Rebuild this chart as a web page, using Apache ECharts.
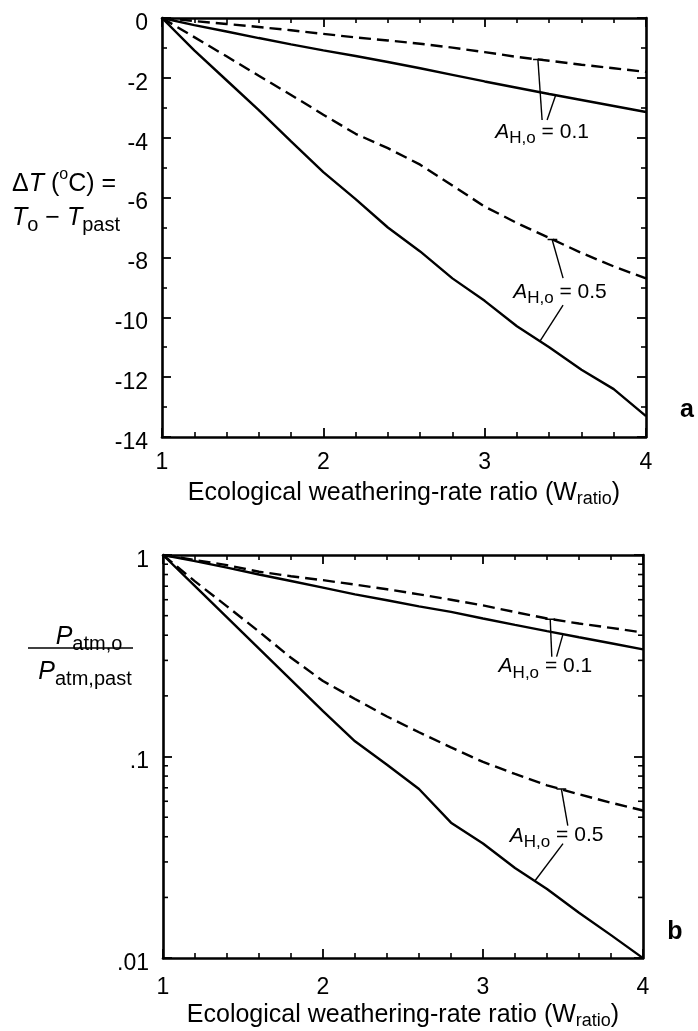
<!DOCTYPE html>
<html><head><meta charset="utf-8">
<script src="https://cdn.jsdelivr.net/npm/echarts@6/dist/echarts.min.js"></script>
<style>html,body{margin:0;padding:0;background:#fff}#c{width:698px;height:1031px}</style>
</head><body><div id="c"></div>
<script>
// ---------- data ----------
const xVals = [1, 1.2, 1.4, 1.6, 1.8, 2, 2.2, 2.4, 2.6, 2.8, 3, 3.2, 3.4, 3.6, 3.8, 4];
const xTickLabels = ['1', '2', '3', '4'];

// panel a : ΔT (°C)
const dT_solid_01 = [0, -0.24, -0.45, -0.67, -0.88, -1.08, -1.27, -1.47, -1.68, -1.9, -2.12, -2.33, -2.54, -2.74, -2.94, -3.14];
const dT_dash_01  = [0, -0.1, -0.2, -0.3, -0.41, -0.53, -0.65, -0.75, -0.86, -0.99, -1.14, -1.3, -1.43, -1.56, -1.68, -1.8];
const dT_dash_05  = [0, -0.64, -1.28, -1.93, -2.57, -3.23, -3.87, -4.35, -4.9, -5.6, -6.3, -6.85, -7.35, -7.85, -8.3, -8.7];
const dT_solid_05 = [0, -1.08, -2.08, -3.08, -4.12, -5.15, -6.05, -7.0, -7.8, -8.7, -9.45, -10.3, -11.0, -11.75, -12.4, -13.3];

// panel b : P_atm,o / P_atm,past
const P_solid_01 = [1, 0.933, 0.865, 0.80, 0.743, 0.689, 0.638, 0.596, 0.556, 0.522, 0.484, 0.45, 0.419, 0.391, 0.365, 0.34];
const P_dash_01  = [1, 0.944, 0.891, 0.826, 0.785, 0.75, 0.713, 0.676, 0.638, 0.6, 0.562, 0.521, 0.484, 0.457, 0.435, 0.412];
const P_dash_05  = [1, 0.74, 0.556, 0.417, 0.309, 0.237, 0.193, 0.158, 0.132, 0.111, 0.094, 0.082, 0.072, 0.065, 0.059, 0.054];
const P_solid_05 = [1, 0.70, 0.49, 0.343, 0.24, 0.168, 0.119, 0.091, 0.069, 0.047, 0.037, 0.028, 0.022, 0.0168, 0.013, 0.010];

const bYTickLabels = ['.01', '.1', '1'];
const bMinorTicks = [0.02,0.03,0.04,0.05,0.06,0.07,0.08,0.09,0.2,0.3,0.4,0.5,0.6,0.7,0.8,0.9];

// annotations (data coordinates): label anchor + leader segments
const annotations = [
  { panel: 0, value: '0.1', at: [3.356, -3.81],
    segs: [ [[3.356, -3.41], [3.33, -1.385]], [[3.30, -1.385], [3.36, -1.385]], [[3.387, -3.41], [3.44, -2.58]] ] },
  { panel: 0, value: '0.5', at: [3.467, -9.15],
    segs: [ [[3.486, -8.69], [3.418, -7.4]], [[3.39, -7.4], [3.45, -7.4]], [[3.486, -9.59], [3.343, -10.8]] ] },
  { panel: 1, value: '0.1', at: [3.39, 0.28],
    segs: [ [[3.43, 0.313], [3.42, 0.48]], [[3.39, 0.48], [3.45, 0.48]], [[3.46, 0.313], [3.5, 0.405]] ] },
  { panel: 1, value: '0.5', at: [3.46, 0.0405],
    segs: [ [[3.53, 0.0454], [3.49, 0.069]], [[3.46, 0.069], [3.52, 0.069]], [[3.5, 0.037], [3.325, 0.0242]] ] }
];

// ---------- chart ----------
const FONT = "'Liberation Sans', Arial, Helvetica, sans-serif";
const chart = echarts.init(document.getElementById('c'), null, { renderer: 'canvas' });
const pairs = ys => xVals.map((x, i) => [x, ys[i]]);

const axLine = { show: true, onZero: false, lineStyle: { color: '#000', width: 2.6 } };
const majTick = { show: true, inside: true, length: 9, lineStyle: { color: '#000', width: 1.8 } };
const tickRich = { v: { color: '#000', fontFamily: FONT, fontSize: 23, padding: [11, 0, 0, 0] } };

function xAxisDef(grid, pos, showLabel, margin, nameGap) {
  const ax = {
    type: 'value', gridIndex: grid, position: pos, min: 1, max: 4, interval: 1,
    axisLine: axLine, axisTick: majTick,
    minorTick: { show: true, splitNumber: 5, length: 5, lineStyle: { color: '#000', width: 1.6 } },
    splitLine: { show: false }, minorSplitLine: { show: false },
    axisLabel: { show: showLabel, color: '#000', fontFamily: FONT, fontSize: 23, margin: margin,
      formatter: v => xTickLabels[Math.round(v) - 1] }
  };
  if (showLabel) {
    ax.name = 'Ecological weathering-rate ratio (W{s|ratio})';
    ax.nameLocation = 'middle';
    ax.nameGap = nameGap;
    ax.nameTextStyle = { color: '#000', fontFamily: FONT, fontSize: 25, lineHeight: 30,
      rich: { s: { color: '#000', fontFamily: FONT, fontSize: 18, lineHeight: 18, verticalAlign: 'bottom' } } };
  }
  return ax;
}
function yAxisA(pos, showLabel) {
  return {
    type: 'value', gridIndex: 0, position: pos, min: -14, max: 0, interval: 2,
    axisLine: axLine, axisTick: majTick,
    minorTick: { show: true, splitNumber: 2, length: 5, lineStyle: { color: '#000', width: 1.6 } },
    splitLine: { show: false }, minorSplitLine: { show: false },
    axisLabel: { show: showLabel, margin: 14, rich: tickRich, formatter: v => '{v|' + String(v) + '}' }
  };
}
function yAxisB(pos, showLabel) {
  return {
    type: 'log', logBase: 10, gridIndex: 1, position: pos, min: 0.01, max: 1,
    axisLine: axLine, axisTick: majTick, minorTick: { show: false },
    splitLine: { show: false }, minorSplitLine: { show: false },
    axisLabel: { show: showLabel, margin: 14, rich: tickRich,
      formatter: v => '{v|' + bYTickLabels[Math.round(Math.log10(v)) + 2] + '}' }
  };
}

const solid = { color: '#000', width: 2.4, type: 'solid' };
const dashed = { color: '#000', width: 2.4, type: [12, 6] };
function curve(p, ys, ls) {
  return { type: 'line', xAxisIndex: p * 2, yAxisIndex: p * 2, data: pairs(ys), symbol: 'none',
    showSymbol: false, silent: true, lineStyle: ls, z: 3 };
}

const series = [
  curve(0, dT_solid_01, solid), curve(0, dT_dash_01, dashed),
  curve(0, dT_dash_05, dashed), curve(0, dT_solid_05, solid),
  curve(1, P_solid_01, solid), curve(1, P_dash_01, dashed),
  curve(1, P_dash_05, dashed), curve(1, P_solid_05, solid)
];
annotations.forEach(a => {
  a.segs.forEach(sg => series.push({ type: 'line', xAxisIndex: a.panel * 2, yAxisIndex: a.panel * 2,
    data: sg, symbol: 'none', silent: true, lineStyle: { color: '#000', width: 1.4 }, z: 2 }));
});

chart.setOption({
  animation: false,
  backgroundColor: '#fff',
  grid: [
    { left: 162, top: 18, width: 484, height: 419 },
    { left: 163, top: 555, width: 480, height: 405 }
  ],
  xAxis: [
    xAxisDef(0, 'bottom', true, 14, 41), xAxisDef(0, 'top', false, 0, 0),
    xAxisDef(1, 'bottom', true, 18, 39), xAxisDef(1, 'top', false, 0, 0)
  ],
  yAxis: [ yAxisA('left', true), yAxisA('right', false), yAxisB('left', true), yAxisB('right', false) ],
  series: series
});

// ---------- extra graphics ----------
function mkRich(main, sub, sup) {
  return {
    n: { fill: '#000', fontFamily: FONT, fontSize: main, lineHeight: main + 9 },
    i: { fill: '#000', fontFamily: FONT, fontSize: main, fontStyle: 'italic', lineHeight: main + 9 },
    s: { fill: '#000', fontFamily: FONT, fontSize: sub, lineHeight: sub, verticalAlign: 'bottom' },
    p: { fill: '#000', fontFamily: FONT, fontSize: sup, lineHeight: sup + 4, verticalAlign: 'top' }
  };
}
const titleRich = mkRich(25, 20, 16);
const annRich = mkRich(21, 17, 14);
function txt(x, y, text, align, rich) {
  return { type: 'text', silent: true, z: 10, style: { x: x, y: y, text: text, rich: rich,
    align: align, textAlign: align, verticalAlign: 'middle', textVerticalAlign: 'middle', fill: '#000' } };
}
const els = [
  txt(12, 184, '{n|Δ}{i|T}{n| (}{p|o}{n|C) =}', 'left', titleRich),
  txt(12, 218, '{i|T}{s|o}{n| − }{i|T}{s|past}', 'left', titleRich),
  txt(89, 637, '{i|P}{s|atm,o}', 'center', titleRich),
  { type: 'line', silent: true, shape: { x1: 28, y1: 648, x2: 133, y2: 648 }, style: { stroke: '#000', lineWidth: 1.6 } },
  txt(85, 672, '{i|P}{s|atm,past}', 'center', titleRich),
  { type: 'text', silent: true, style: { x: 687, y: 410, text: 'a', font: 'bold 25px ' + FONT, fill: '#000',
    align: 'center', textAlign: 'center', verticalAlign: 'middle', textVerticalAlign: 'middle' } },
  { type: 'text', silent: true, style: { x: 675, y: 932, text: 'b', font: 'bold 25px ' + FONT, fill: '#000',
    align: 'center', textAlign: 'center', verticalAlign: 'middle', textVerticalAlign: 'middle' } }
];
annotations.forEach(a => {
  const p = chart.convertToPixel({ xAxisIndex: a.panel * 2, yAxisIndex: a.panel * 2 }, a.at);
  els.push(txt(p[0], p[1], '{i|A}{s|H,o}{n| = ' + a.value + '}', 'center', annRich));
});
bMinorTicks.forEach(v => {
  const pl = chart.convertToPixel({ xAxisIndex: 2, yAxisIndex: 2 }, [1, v]);
  const pr = chart.convertToPixel({ xAxisIndex: 2, yAxisIndex: 2 }, [4, v]);
  els.push({ type: 'line', silent: true, shape: { x1: pl[0], y1: pl[1], x2: pl[0] + 5, y2: pl[1] },
    style: { stroke: '#000', lineWidth: 1.6 } });
  els.push({ type: 'line', silent: true, shape: { x1: pr[0], y1: pr[1], x2: pr[0] - 5, y2: pr[1] },
    style: { stroke: '#000', lineWidth: 1.6 } });
});
chart.setOption({ graphic: { elements: els } });
</script>
</body></html>
